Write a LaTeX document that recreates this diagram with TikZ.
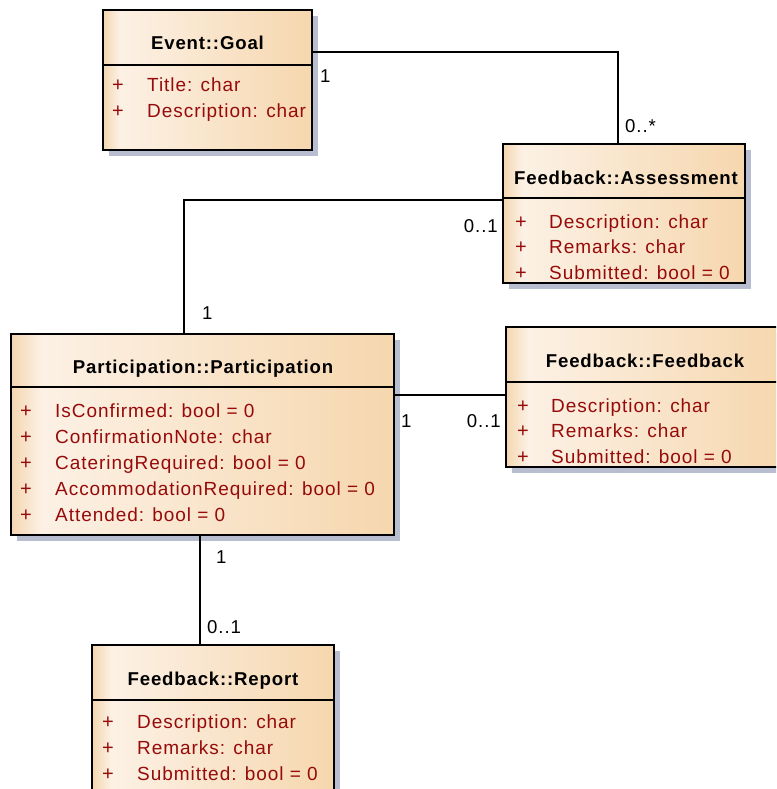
\documentclass[tikz,border=0pt]{standalone}
\usepackage{fontspec}
\setmainfont{Liberation Sans}
\usetikzlibrary{shadows}
\definecolor{gradA}{RGB}{244,214,176}
\definecolor{gradB}{RGB}{252,241,229}
\definecolor{gradC}{RGB}{246,215,174}
\definecolor{shadowc}{RGB}{184,190,208}
\definecolor{attrc}{RGB}{150,10,10}
\pgfdeclarehorizontalshading{classfill}{100bp}{color(0bp)=(gradA); color(25bp)=(gradA); color(29bp)=(gradB); color(75bp)=(gradC); color(100bp)=(gradC)}

\begin{document}
\begin{tikzpicture}[x=1pt,y=-1pt,
  classbox/.style={draw=black, line width=1.4pt, shade, shading=classfill,
    inner sep=0pt, outer sep=0pt, anchor=north west,
    drop shadow={shadow xshift=6pt, shadow yshift=-6pt, fill=shadowc, opacity=1}},
  divider/.style={draw=black, line width=1.4pt},
  assoc/.style={draw=black, line width=1.2pt},
  ctitle/.style={font=\bfseries\fontsize{18.6}{20}\selectfont\addfontfeature{LetterSpace=4.5}, anchor=base, inner sep=0pt},
  vis/.style={font=\fontsize{20}{20}\selectfont, text=attrc, anchor=base, inner sep=0pt},
  attr/.style={font=\fontsize{19}{20}\selectfont\addfontfeature{LetterSpace=5}, text=attrc, anchor=base west, inner sep=0pt},
  mult/.style={font=\fontsize{18.6}{20}\selectfont\addfontfeature{LetterSpace=5}, text=black, inner sep=0pt},
]
\useasboundingbox (0,0) rectangle (776,789);
\clip (0,0) rectangle (776,789);

% ---- class boxes ----
\node[classbox, minimum width=209pt, minimum height=140pt] (goal) at (103,10) {};
\node[classbox, minimum width=242pt, minimum height=139pt] (assess) at (503,144) {};
\node[classbox, minimum width=383pt, minimum height=201pt] (part) at (11,334) {};
\node[classbox, minimum width=278pt, minimum height=140pt] (fb) at (506,327) {};
\node[classbox, minimum width=242pt, minimum height=160pt] (report) at (92,645) {};

% ---- compartment dividers ----
\draw[divider] (goal.west |- 0,65) -- (goal.east |- 0,65);
\draw[divider] (assess.west |- 0,198) -- (assess.east |- 0,198);
\draw[divider] (part.west |- 0,387) -- (part.east |- 0,387);
\draw[divider] (fb.west |- 0,382) -- (fb.east |- 0,382);
\draw[divider] (report.west |- 0,700) -- (report.east |- 0,700);

% ---- associations ----
\draw[assoc] (goal.east |- 0,52) -| (assess.north -| 618,0);
\draw[assoc] (assess.west |- 0,200) -| (part.north -| 184,0);
\draw[assoc] (part.east |- 0,395) -- (fb.west |- 0,395);
\draw[assoc] (part.south -| 200,0) -- (report.north -| 200,0);

% ---- multiplicities ----
\node[mult, anchor=base west] (m1) at (320,83) {1};
\node[mult, anchor=base west] (m2) at (625,132) {0..*};
\node[mult, anchor=base east] (m3) at (498,232) {0..1};
\node[mult, anchor=base west] (m4) at (202,319) {1};
\node[mult, anchor=base west] (m5) at (401,427) {1};
\node[mult, anchor=base east] (m6) at (501,427) {0..1};
\node[mult, anchor=base west] (m7) at (216,563) {1};
\node[mult, anchor=base west] (m8) at (207,633) {0..1};

% ---- Event::Goal ----
\node[ctitle] (goalT) at (207.5,50) {Event::Goal};
\node[vis] (goalP1) at (118,92) {+};
\node[attr] (goalA1) at (147,92) {Title: char};
\node[vis] (goalP2) at (118,117.7) {+};
\node[attr] (goalA2) at (147,117.7) {Description: char};

% ---- Feedback::Assessment ----
\node[ctitle] (assessT) at (626,184) {Feedback::Assessment};
\node[vis] (assessP1) at (521,228) {+};
\node[attr] (assessA1) at (549,228) {Description: char};
\node[vis] (assessP2) at (521,253.5) {+};
\node[attr] (assessA2) at (549,253.5) {Remarks: char};
\node[vis] (assessP3) at (521,279) {+};
\node[attr] (assessA3) at (549,279) {Submitted: bool = 0};

% ---- Participation::Participation ----
\node[ctitle] (partT) at (203,373) {Participation::Participation};
\node[vis] (partP1) at (26,417) {+};
\node[attr] (partA1) at (55,417) {IsConfirmed: bool = 0};
\node[vis] (partP2) at (26,443) {+};
\node[attr] (partA2) at (55,443) {ConfirmationNote: char};
\node[vis] (partP3) at (26,469) {+};
\node[attr] (partA3) at (55,469) {CateringRequired: bool = 0};
\node[vis] (partP4) at (26,495) {+};
\node[attr] (partA4) at (55,495) {AccommodationRequired: bool = 0};
\node[vis] (partP5) at (26,521) {+};
\node[attr] (partA5) at (55,521) {Attended: bool = 0};

% ---- Feedback::Feedback ----
\node[ctitle] (fbT) at (645,367) {Feedback::Feedback};
\node[vis] (fbP1) at (523,412) {+};
\node[attr] (fbA1) at (551,412) {Description: char};
\node[vis] (fbP2) at (523,437.5) {+};
\node[attr] (fbA2) at (551,437.5) {Remarks: char};
\node[vis] (fbP3) at (523,463) {+};
\node[attr] (fbA3) at (551,463) {Submitted: bool = 0};

% ---- Feedback::Report ----
\node[ctitle] (reportT) at (213,685) {Feedback::Report};
\node[vis] (reportP1) at (108,728) {+};
\node[attr] (reportA1) at (137,728) {Description: char};
\node[vis] (reportP2) at (108,754) {+};
\node[attr] (reportA2) at (137,754) {Remarks: char};
\node[vis] (reportP3) at (108,780) {+};
\node[attr] (reportA3) at (137,780) {Submitted: bool = 0};
\end{tikzpicture}
\end{document}
